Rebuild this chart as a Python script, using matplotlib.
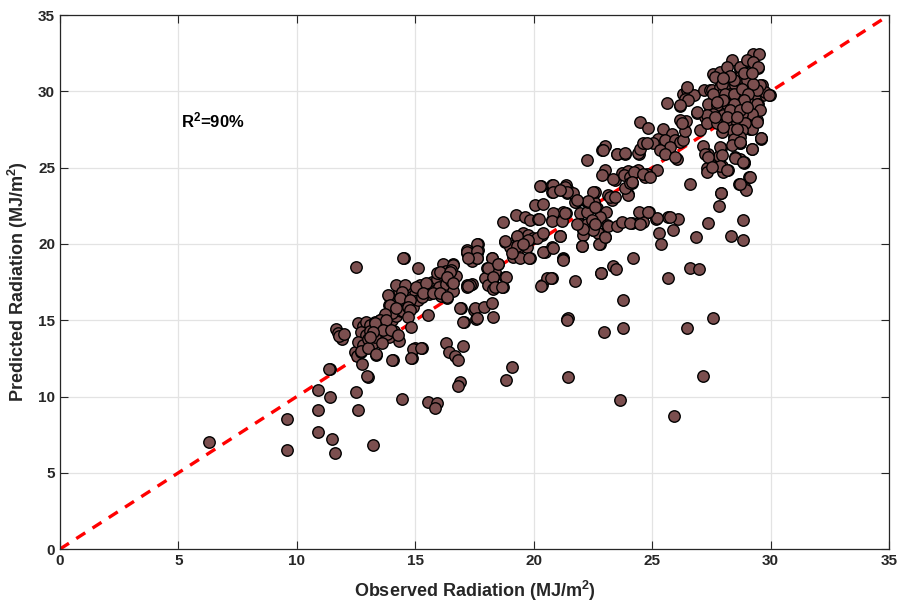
import matplotlib
matplotlib.use("Agg")
import matplotlib.pyplot as plt
import numpy as np

plt.rcParams['font.family'] = ['Liberation Sans', 'DejaVu Sans']
plt.rcParams['mathtext.fontset'] = 'custom'
plt.rcParams['mathtext.rm'] = 'Liberation Sans:bold'
plt.rcParams['mathtext.bf'] = 'Liberation Sans:bold'
plt.rcParams['mathtext.it'] = 'Liberation Sans:bold'

# ---- data (observed, predicted) ----
low_pts = [(6.3,7.0),(9.6,6.5),(9.6,8.5),(10.9,10.4),(10.9,9.1),(10.9,7.7),(11.5,7.2),(11.6,6.3),
           (11.4,10.0),(11.4,11.8),(12.5,10.3),(12.6,9.1),(13.0,11.3),(13.2,6.8),(12.5,18.5),
           (14.52,19.07),(15.1,18.4),(11.65,14.4),(11.75,14.15),(11.9,13.75),(11.8,13.95),(11.98,14.1),
           (12.46,12.93),(12.56,12.65),(12.77,12.12),(12.73,12.93),(13.36,12.71),(14.04,12.39),
           (14.88,12.5),(14.98,13.15),(15.3,13.2),(14.32,13.65),(13.88,13.87),(16.95,15.77),(17.5,15.7),
           (17.55,15.1),(17.05,14.9),(16.3,13.5),(16.43,12.9),(16.67,12.65),(16.8,12.4),(17.0,13.3),
           (17.2,19.4),(17.6,19.4),(17.4,18.9),(17.17,17.3),(17.38,17.4),(19.1,11.95),(18.85,11.07),
           (16.88,10.96),(16.8,10.68),(14.42,9.81),(15.54,9.65),(15.9,9.55),(15.82,9.22),(21.39,15.05),
           (21.46,11.29),(23.65,9.75),(25.94,8.72),(27.14,11.36),(27.59,15.12),(26.47,14.46),
           (22.98,14.24),(23.79,14.5),(23.79,16.32),(21.75,17.56),(22.83,18.11),(23.36,18.55),
           (23.48,18.35),(24.21,19.09),(25.66,17.78),(26.61,18.41),(27.0,18.39)]

band1_pts = [(12.6,14.8),(12.8,14.6),(12.9,14.9),(13.1,14.7),(13.3,14.9),(13.5,15.0),(13.7,15.2),(13.9,15.4),
             (12.7,14.2),(12.9,14.0),(13.1,14.3),(13.4,14.5),(13.6,14.6),(13.8,14.8),(14.0,15.0),(12.6,13.6),
             (12.8,13.4),(13.0,13.8),(13.2,13.5),(13.5,14.0),(13.8,14.1),(14.1,14.3),(12.7,13.0),(13.0,13.2),
             (13.3,13.9),(14.2,15.3),(14.4,15.6),(13.6,13.5),(13.9,16.0),(14.2,15.8),(14.4,16.2),(14.6,16.4),
             (14.8,16.7),(15.0,16.9),(14.3,16.9),(14.6,17.2),(14.9,15.9),(15.1,16.3),(14.0,15.5),(14.5,15.6),
             (15.2,17.3),(15.4,16.8),(14.2,17.3),(13.9,16.6),(15.3,17.0),(15.5,17.3),(15.7,17.5),(15.9,17.7),
             (16.1,18.0),(16.3,18.2),(16.5,18.4),(16.6,18.7),(15.6,16.7),(15.8,16.9),(16.0,17.2),(16.3,17.4),
             (16.5,17.6),(15.3,16.5),(16.1,16.6),(16.6,16.9),(15.9,18.1),(16.7,17.9),
             (14.49,19.05),(16.18,18.7),(16.6,18.6),(16.3,18.2),(16.5,18.3),(14.56,17.3),(14.42,16.86),
             (13.85,16.64),(14.35,16.43),(14.77,16.32),(15.05,17.19),(15.47,17.41),(15.33,16.76),(15.75,16.76),
             (16.04,16.76),(16.32,16.43),(13.93,15.99),(14.2,15.77),(14.7,15.88),(14.77,15.66),(13.71,15.44),
             (13.5,15.0),(13.29,14.79),(13.78,15.0),(13.64,14.35),(13.99,14.35),(14.28,14.02),(13.22,14.24),
             (13.08,13.91),(14.7,15.22),(14.84,14.57),(15.54,15.33),(16.35,16.53),(17.17,17.19),(17.31,17.3),
             (14.91,13.1),(15.26,13.2),(14.84,12.5),(14.02,12.39),(13.36,12.78),(11.35,11.8),(12.98,11.36)]

band2_pts = [(17.17,19.6),(17.66,20.03),(17.66,19.6),(17.59,19.05),(18.22,19.05),(18.5,18.72),(18.01,18.4),
             (18.36,18.17),(18.29,17.74),(17.94,17.74),(18.08,17.3),(18.71,17.19),(18.29,17.08),(18.79,17.84),
             (17.52,15.77),(17.9,15.88),(18.22,16.1),(17.59,15.12),(18.29,15.22),(16.88,15.77),(17.02,14.9),
             (18.71,21.45),(19.27,21.89),(19.63,21.78),(19.84,21.56),(20.19,21.67),(20.05,22.54),(20.4,22.59),
             (20.31,23.79),(20.76,23.85),(20.76,23.41),(21.25,23.63),(20.9,21.99),(21.25,22.1),(20.76,21.56),
             (21.11,21.67),(18.79,20.14),(19.28,20.47),(19.56,20.69),(19.77,20.58),(19.98,20.36),(18.99,19.81),
             (19.28,19.6),(19.7,19.81),(19.13,19.15),(19.42,19.05),(19.84,19.05),(20.34,20.58),(20.12,20.36),
             (20.48,19.48),(20.76,19.81),(21.11,20.51),(20.34,17.3),(20.55,17.74),(20.76,17.74),(21.25,19.05),
             (20.24,21.62),(20.27,23.79),(20.8,23.85),(20.8,23.41),(21.36,23.85),(21.46,23.53),(21.18,23.53),
             (21.39,23.31),(21.79,22.76),(20.83,22.04),(21.36,22.04),(20.76,21.51),(21.18,21.51),(21.96,22.0),
             (22.24,22.76),(22.55,23.35),(22.55,22.76),(22.66,22.33),(23.04,22.1),(22.24,22.1),(22.8,21.78),
             (23.08,21.23),(21.96,21.34),(22.24,21.34),(22.45,21.56),(22.1,20.9),(22.52,20.9),(22.1,20.58),
             (22.73,20.69),(23.01,20.47),(22.8,20.03),(22.03,19.86),(21.11,20.53),(20.4,20.69),(20.4,19.48),
             (20.8,19.75),(21.25,19.0),(22.84,18.13),(20.72,17.8),(20.3,17.25),(18.79,20.2),(19.28,20.51),
             (19.77,20.25),(19.28,19.86),(19.56,19.99),(19.07,19.42),(19.81,19.05),(17.17,19.48),(17.62,19.99),
             (17.62,19.55),(17.62,19.11),(17.24,19.05),(18.22,19.11),(18.08,18.4),(18.5,18.72),(18.29,17.84),
             (18.83,17.84),(18.36,17.19),(18.65,17.15),(17.24,17.23),(16.04,18.17),(16.46,18.17),(16.32,17.84),
             (16.6,17.41),(21.46,15.12),(21.42,15.01)]

band3_pts = [(25.31,20.69),(25.37,20.03),(25.9,20.9),(25.69,21.78),(26.11,21.67),(27.38,21.38),(26.86,20.43),
             (28.33,20.53),(28.83,20.29),(28.83,21.6),(27.83,22.48),(27.92,23.35),(21.25,18.98),(22.03,19.86),
             (22.77,20.03),(23.01,20.47),(22.52,20.9),(22.1,21.0),(21.82,21.34),(21.32,22.0),(21.75,22.76),
             (22.31,22.76),(22.59,23.41),(23.15,21.17),(23.51,21.17),(23.72,21.45),(24.14,21.38),(24.46,21.38),
             (24.63,21.45),(24.46,22.1),(24.88,22.1),(25.17,21.67),(23.15,23.2),(23.3,22.87),(24.0,23.26),
             (22.52,23.41),(22.31,22.83),(21.67,23.35),(21.82,22.87),(21.32,23.74),(21.39,23.41),(21.11,23.53),
             (22.59,22.43),(22.59,21.34),(24.07,21.38),(24.49,21.3),(25.2,21.71),(25.76,21.78),(24.84,22.1),
             (23.01,26.41),(22.87,26.19),(23.51,25.88),(23.86,25.93),(24.46,25.88),(22.24,25.49),(23.01,24.84),
             (22.87,24.51),(23.44,24.22),(23.72,24.66),(24.0,24.79),(24.42,24.84),(24.71,24.4),(25.2,24.88),
             (24.77,24.62),(24.14,23.97),(24.0,23.2),(23.86,23.64),(23.37,24.29),(23.8,24.51),(24.08,24.4),
             (24.22,24.72),(24.63,24.62),(24.92,24.4),(24.08,23.97),(24.15,24.07),(23.22,23.09),(23.43,23.09),
             (23.51,25.93),(23.86,25.97),(24.42,25.97),(24.49,26.26),(24.63,26.59),(22.94,26.15),
             (24.49,28.0),(24.84,27.63),(25.47,27.57),(25.83,27.24),(25.26,26.91),(25.05,26.59),(24.77,26.59),
             (25.55,26.8),(25.97,26.8),(26.18,26.69),(26.32,26.8),(25.76,26.36),(25.34,26.14),(25.55,25.93),
             (26.04,25.6),(25.97,25.71),(26.6,23.9),(27.31,25.01),(27.59,25.1),(27.94,25.12),(28.22,24.88),
             (28.01,24.72),(27.31,24.72),(29.11,24.4),(28.65,23.92),(28.93,23.64),(27.92,23.35),
             (29.14,24.36),(28.97,23.57),(28.72,23.92),(28.86,25.31),(28.72,25.6),(29.21,26.26),(28.72,26.59),
             (29.6,26.91),(29.39,28.07),(29.14,27.57),(28.51,25.71),(28.86,25.38),(27.9,26.32),(27.84,25.75),
             (27.38,25.93),(27.17,26.41),(27.87,26.36),(27.95,25.82),(27.24,25.93),(27.38,25.71),(27.87,25.1),
             (28.16,24.84),(27.52,25.05),(28.51,25.67),(28.83,25.38)]

top_pts = [(29.28,32.48),(29.53,32.48),(28.37,32.09),(29.7,29.75),(29.99,29.75),(29.42,28.11),(29.21,27.57),
           (29.6,26.95),(29.21,26.26),(28.72,26.63),(28.44,27.02),(28.37,27.67),(28.58,28.0),(28.22,28.0),
           (27.03,27.5),(26.39,27.41),(26.44,28.07),(26.89,28.59),(27.24,28.33),(27.45,28.77),(27.66,28.44),
           (26.18,28.11),(26.25,27.9),(26.18,29.03),(25.62,29.25),(26.32,29.86),(26.49,30.08),(26.75,29.75),
           (26.39,29.53),(26.53,29.42),(27.2,30.08),(27.45,30.08),(29.14,31.93),(29.49,31.57),(29.64,30.41),
           (29.78,29.97),(29.03,30.78),(29.0,30.08),(28.72,31.5),(29.35,29.53),(29.49,29.21),(28.72,28.44),
           (28.72,27.9),(26.47,30.3),(27.52,30.08),(27.87,30.3),(28.22,30.3),(28.51,30.41),(28.79,30.52),
           (29.14,30.41),(29.56,30.41),(29.92,29.75),(29.42,30.08),(28.72,29.86),(28.3,29.86),(27.95,29.86),
           (27.59,29.86),(27.38,29.21),(27.73,29.1),(28.16,29.21),(28.58,29.21),(29.0,29.42),(29.42,29.21),
           (29.56,28.77),(29.21,28.55),(28.79,28.55),(28.37,28.55),(28.01,28.44),(27.59,28.55),(27.31,28.44),
           (26.89,28.66),(26.18,29.1),(27.31,27.9),(27.73,27.9),(28.16,28.0),(28.58,27.9),(28.93,27.9),
           (29.42,28.0),(28.79,27.46),(28.37,27.46),(27.95,27.35),(28.72,27.02),(28.44,26.91),(28.37,26.47),
           (28.72,26.69),(29.6,26.98),(27.59,31.17),(27.87,31.28),(27.66,30.95),(28.16,31.61),(28.72,31.61),
           (29.0,32.04),(29.28,31.93),(29.49,31.61),(28.72,30.95),(28.44,30.73),(29.0,30.73),(29.28,30.52),
           (27.95,30.52),(28.08,29.86),(28.44,29.86),(28.79,30.19),(29.07,29.86),(28.86,29.42),(28.44,29.21),
           (28.01,29.42),(27.73,29.31),(28.3,28.77),(28.72,28.77),(29.0,28.98),(28.16,28.33),(28.58,28.33),
           (27.66,28.33),(28.01,27.67),(28.58,27.57),(28.9,31.2),(28.3,31.0),(29.2,31.2),(28.0,30.9)]

groups = [low_pts, band1_pts, band2_pts, band3_pts, top_pts]
observed = np.array([p[0] for g in groups for p in g])
predicted = np.array([p[1] for g in groups for p in g])

x_ticks = [0, 5, 10, 15, 20, 25, 30, 35]
y_ticks = [0, 5, 10, 15, 20, 25, 30, 35]
annotation = 'R$^{2}$=90%'

fig = plt.figure(figsize=(9.01, 6.08), dpi=100)
ax = fig.add_axes([0.0666, 0.097, 0.92, 0.878])

ax.grid(True, color='#e3e3e3', linewidth=0.9)
ax.set_axisbelow(True)
ax.plot([0, 35], [0, 35], color='#ff0000', linestyle=(0, (3.2, 2.6)), linewidth=2.4, zorder=2)
ax.scatter(observed, predicted, s=68, c='#7b4f4f', edgecolors='black', linewidths=1.0, zorder=3)

ax.set_xlim(0, 35)
ax.set_ylim(0, 35)
ax.set_xticks(x_ticks)
ax.set_yticks(y_ticks)
ax.tick_params(direction='in', length=6, width=0.8, top=True, right=True,
               labelsize=11, colors='#262626')
for lbl in ax.get_xticklabels() + ax.get_yticklabels():
    lbl.set_fontweight('bold')
for sp in ax.spines.values():
    sp.set_color('#262626')
    sp.set_linewidth(0.9)

ax.set_xlabel('Observed Radiation (MJ/m$^{2}$)', fontsize=13, fontweight='bold', color='#262626', labelpad=8)
ax.set_ylabel('Predicted Radiation (MJ/m$^{2}$)', fontsize=13, fontweight='bold', color='#262626', labelpad=6)
ax.text(5.1, 28.1, annotation, fontsize=12, fontweight='bold', color='black', va='center')

fig.savefig('out.png', dpi=100)
